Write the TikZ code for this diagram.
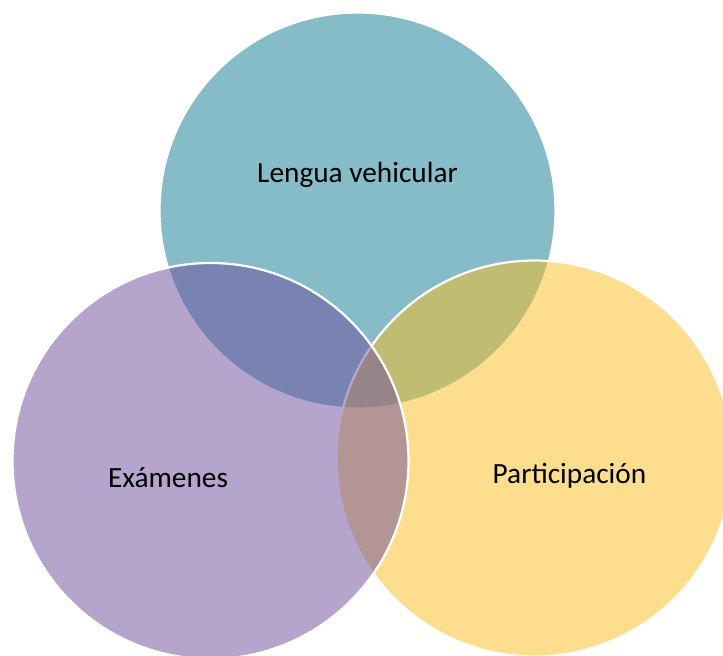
\documentclass[tikz,border=0pt]{standalone}
\usepackage{fontspec}
\setmainfont{Carlito}
\definecolor{cteal}{RGB}{134,187,200}
\definecolor{cyel}{RGB}{251,191,31}
\definecolor{cpur}{RGB}{109,77,157}
\begin{document}
\begin{tikzpicture}[x=1pt,y=-1pt,
  venn/.style={draw=white,line width=2.2pt,circle,minimum size=396pt,inner sep=0pt},
  lbl/.style={anchor=base,inner sep=0pt,font=\fontsize{29.3}{35}\selectfont,text=black}]
\useasboundingbox (0,0) rectangle (723,656);
\clip (0,0) rectangle (723,656);
\fill[white] (0,0) rectangle (723,656);
% top circle
\node[venn,fill=cteal] (top) at (357.5,210.5) {};
% right circle
\node[venn,fill=cyel,fill opacity=0.5] (right) at (534.5,458.5) {};
% left circle
\node[venn,fill=cpur,fill opacity=0.5] (left) at (210.5,461) {};
\node[lbl] (t1) at (357.5,182) {Lengua vehicular};
\node[lbl] (t2) at (168,487.5) {Exámenes};
\node[lbl] (t3) at (569.5,483) {Participación};
\end{tikzpicture}
\end{document}
